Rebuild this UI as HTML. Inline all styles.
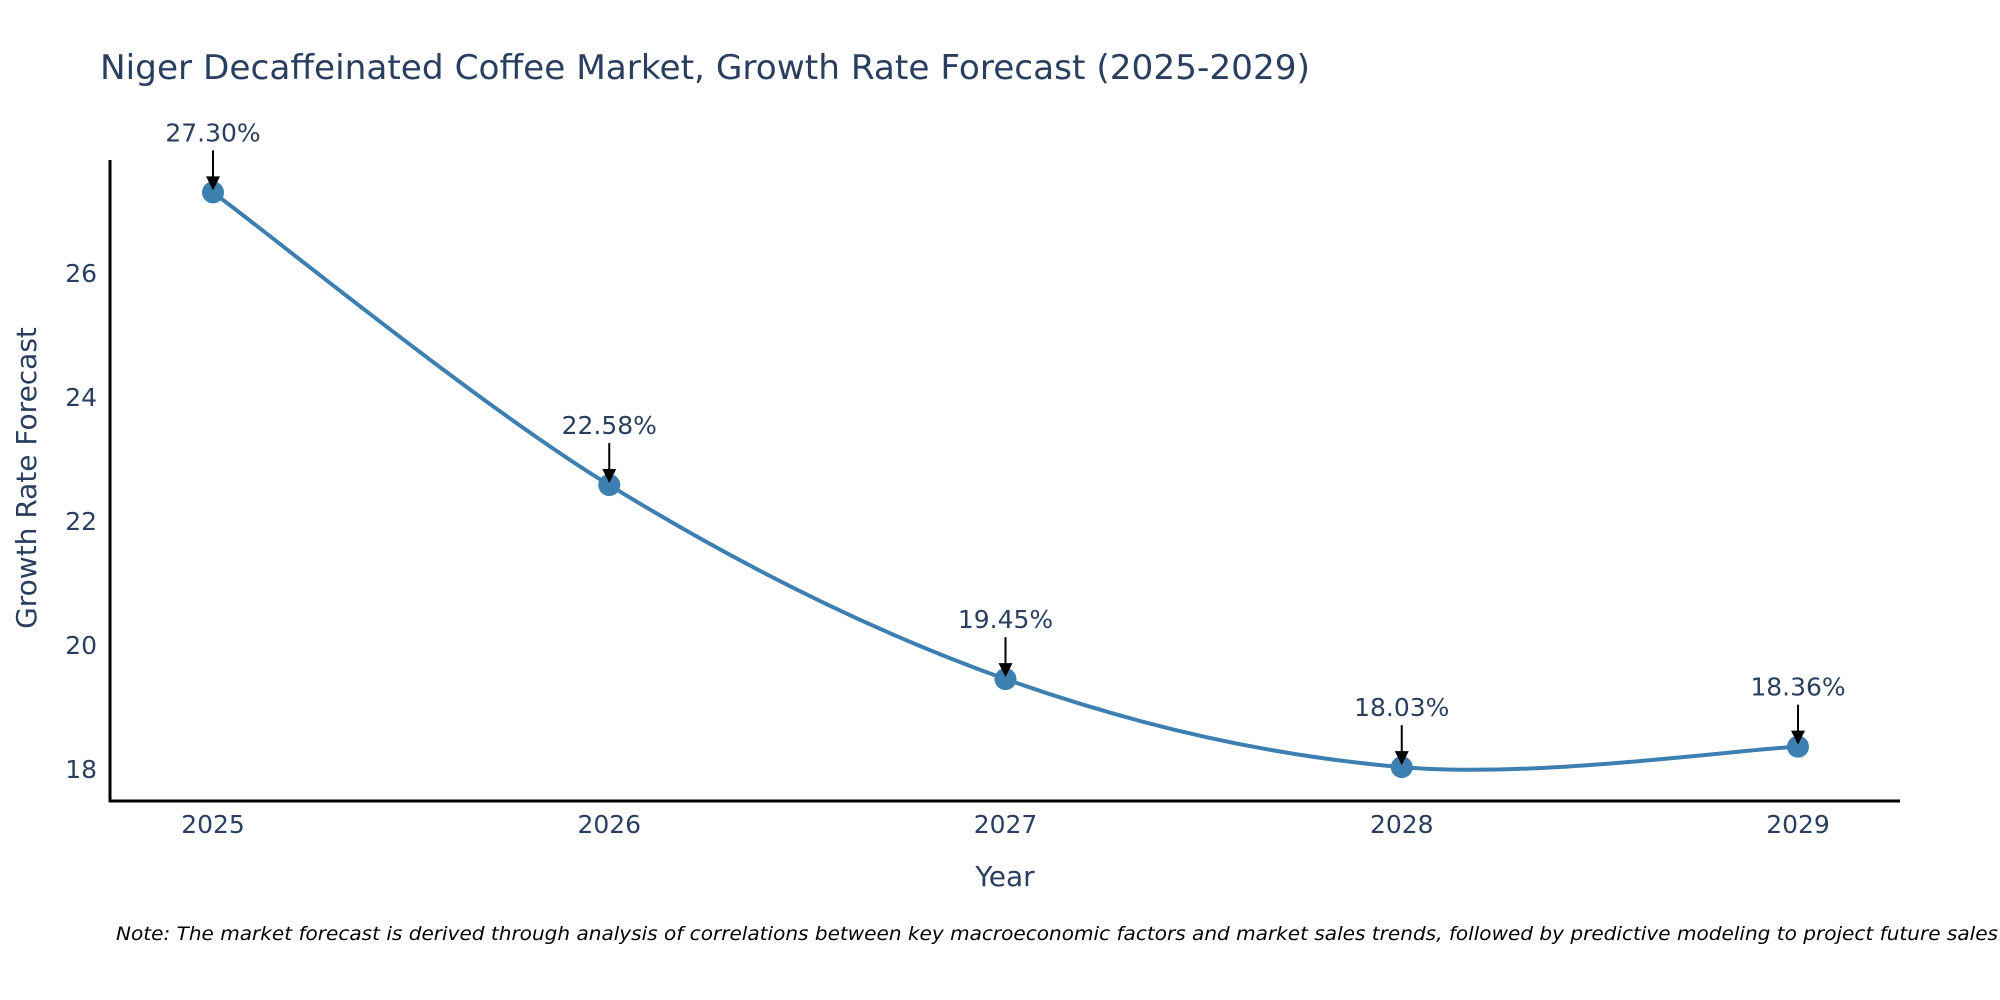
<!DOCTYPE html>
<html><head><meta charset="utf-8"><style>
html,body{margin:0;padding:0;background:#fff;}
svg{display:block;font-family:"DejaVu Sans","Liberation Sans",sans-serif;}
</style></head><body>
<svg id="chart" width="2000" height="1000" viewBox="0 0 2000 1000">
<text x="100" y="79" font-size="34" fill="#2a3f5f" textLength="1210" lengthAdjust="spacingAndGlyphs">Niger Decaffeinated Coffee Market, Growth Rate Forecast (2025-2029)</text>
<line x1="110" y1="160" x2="110" y2="802" stroke="#000" stroke-width="3"/>
<line x1="109" y1="801" x2="1900" y2="801" stroke="#000" stroke-width="3"/>
<g id="yticks"></g><g id="xticks"></g>
<path id="series" fill="none" stroke="#3d7fb0" stroke-width="4"/>
<g id="points"></g><g id="ann"></g>
<text x="1005" y="886" font-size="28" fill="#2a3f5f" text-anchor="middle">Year</text>
<text transform="translate(36,478) rotate(-90)" font-size="28" fill="#2a3f5f" text-anchor="middle">Growth Rate Forecast</text>
<text x="116" y="940" font-size="19" font-style="italic" fill="#000" textLength="1882" lengthAdjust="spacingAndGlyphs">Note: The market forecast is derived through analysis of correlations between key macroeconomic factors and market sales trends, followed by predictive modeling to project future sales</text>
</svg>
<script>
const years=[2025,2026,2027,2028,2029];
const values=[27.30,22.58,19.45,18.03,18.36];
const labels=["27.30%","22.58%","19.45%","18.03%","18.36%"];
const yTicks=[18,20,22,24,26];
const NS="http://www.w3.org/2000/svg";
function X(i){return 213+i*396.25;}
function Y(v){return 769-(v-18)*62;}
function mk(tag,attrs,parent,txt){const e=document.createElementNS(NS,tag);for(const k in attrs)e.setAttribute(k,attrs[k]);if(txt!==undefined)e.textContent=txt;document.getElementById(parent).appendChild(e);return e;}
yTicks.forEach(t=>{const e=mk('text',{x:97,y:Y(t)+9,'font-size':25,fill:'#2a3f5f','text-anchor':'end'},'yticks',String(t));

});
years.forEach((yr,i)=>{const e=mk('text',{x:X(i),y:833,'font-size':25,fill:'#2a3f5f','text-anchor':'middle'},'xticks',String(yr));

});
const pts=values.map((v,i)=>[X(i),Y(v)]);
let d=`M${pts[0][0]},${pts[0][1]}`;
for(let i=0;i<pts.length-1;i++){const p0=pts[Math.max(0,i-1)],p1=pts[i],p2=pts[i+1],p3=pts[Math.min(pts.length-1,i+2)];const s=1/6;
d+=` C${p1[0]+(p2[0]-p0[0])*s},${p1[1]+(p2[1]-p0[1])*s} ${p2[0]-(p3[0]-p1[0])*s},${p2[1]-(p3[1]-p1[1])*s} ${p2[0]},${p2[1]}`;}
document.getElementById('series').setAttribute('d',d);
pts.forEach((p,i)=>{const c=mk('circle',{cx:p[0],cy:p[1],r:11,fill:'#3d7fb0'},'points');


const l=mk('line',{x1:p[0],y1:p[1]-42,x2:p[0],y2:p[1]-14,stroke:'#000','stroke-width':2},'ann');


const h=mk('path',{d:`M${p[0]-7},${p[1]-16} L${p[0]+7},${p[1]-16} L${p[0]},${p[1]-2} Z`,fill:'#000'},'ann');


const t=mk('text',{x:p[0],y:p[1]-51,'font-size':25,fill:'#2a3f5f','text-anchor':'middle'},'ann',labels[i]);

});
</script>
</body></html>
